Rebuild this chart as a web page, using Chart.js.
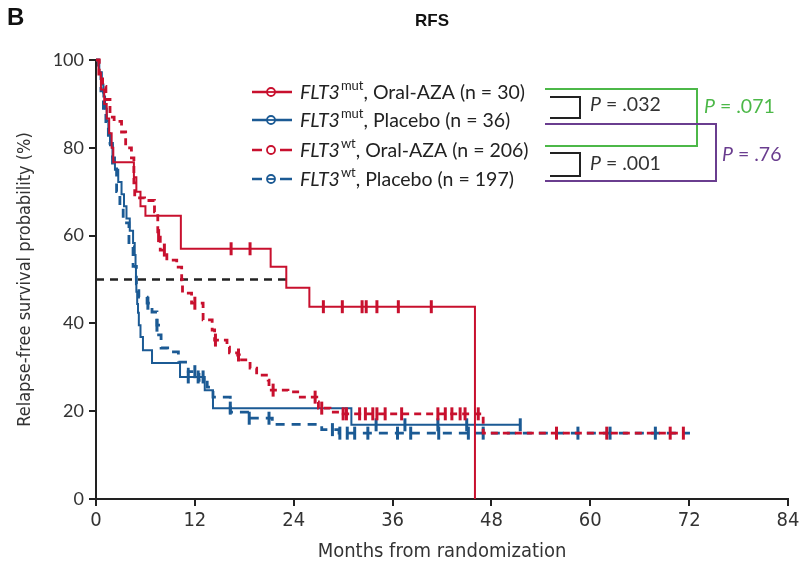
<!DOCTYPE html>
<html>
<head>
<meta charset="utf-8">
<script src="https://cdn.jsdelivr.net/npm/chart.js@4.4.1/dist/chart.umd.min.js"></script>
<style>
  html, body { margin: 0; padding: 0; background: #fff; }
  #wrap { width: 807px; height: 569px; position: relative; }
</style>
</head>
<body>
<div id="wrap"><canvas id="km" width="807" height="569"></canvas></div>
<script>
// Kaplan-Meier curves (months, % relapse-free)
var mutAzaT = [0, 0.3, 0.6, 1.0, 1.3, 1.6, 1.9, 2.1, 4.6, 4.9, 5.4, 6.0, 10.3, 21.2, 23.1, 25.9, 46.0];
var mutAzaS = [100, 96.7, 93.3, 90, 86.7, 83.3, 80, 76.7, 73.3, 70, 66.7, 64.5, 57.0, 52.9, 48.1, 43.8, 0];
var mutAzaCens = [16.4, 18.7, 27.6, 29.9, 32.3, 32.8, 34.1, 36.7, 40.7];

var mutPboT = [0, 0.4, 0.7, 0.9, 1.1, 1.3, 1.5, 1.7, 2.0, 2.3, 2.7, 3.1, 3.4, 3.7, 4.1, 4.5, 4.7, 4.8, 4.85, 4.9, 5.0, 5.1, 5.2, 5.4, 5.7, 6.8, 10.2, 13.2, 14.2, 31.0, 51.5];
var mutPboS = [100, 97.2, 94.4, 91.7, 88.9, 86.1, 83.3, 80.6, 77.8, 75.0, 72.2, 69.4, 66.7, 63.9, 61.1, 58.3, 55.6, 52.8, 50.0, 47.2, 44.4, 42.4, 39.6, 36.9, 33.9, 31.0, 27.8, 24.8, 20.7, 16.9, 16.9];
var mutPboCens = [11.2, 12.4, 13.0, 16.3, 34.0, 37.5, 41.5, 45.0, 51.5];

var wtAzaT = [0, 0.4, 0.8, 1.2, 1.7, 2.2, 3.1, 3.6, 4.3, 4.6, 4.7, 5.9, 7.1, 7.5, 7.8, 8.6, 9.8, 10.4, 10.5, 11.6, 13.0, 14.1, 14.4, 15.9, 16.2, 17.2, 17.4, 18.7, 19.5, 20.9, 21.0, 23.3, 24.8, 26.8, 27.0, 28.4, 30.0, 47.0, 71.3];
var wtAzaS = [100, 97, 94, 91, 87, 86, 83.6, 80, 77.7, 72, 68.6, 68, 65.4, 60, 56.7, 54.4, 52.8, 49.9, 46.9, 44.6, 40.8, 38.5, 36.2, 34.6, 33.3, 32.8, 31.7, 29.8, 28.2, 27.1, 24.8, 24.4, 23.2, 22.1, 20.7, 19.8, 19.4, 15.0, 15.0];
var wtAzaCens = [7.6, 8.3, 12.0, 14.5, 17.3, 21.5, 26.6, 27.4, 30.0, 30.4, 32.0, 32.7, 33.6, 34.1, 35.1, 37.1, 41.5, 42.4, 43.2, 44.2, 44.8, 46.4, 55.9, 62.0, 69.7, 71.3];

var wtPboT = [0, 0.3, 0.6, 0.9, 1.2, 1.5, 2.0, 2.5, 2.9, 3.3, 4.0, 4.5, 4.9, 5.2, 6.2, 6.8, 7.4, 7.6, 7.9, 8.7, 10.0, 11.2, 12.5, 13.5, 14.2, 16.3, 18.6, 21.4, 27.4, 29.5, 72.1];
var wtPboS = [100, 97, 93, 89, 85, 81, 76, 70, 66.5, 62.9, 57.4, 53, 49, 46, 44.6, 42.6, 39.6, 37.4, 34.4, 33.5, 31.2, 29, 27, 25.5, 23.2, 19.8, 18.4, 17.0, 15.8, 15.0, 15.0];
var wtPboCens = [6.3, 7.4, 12.0, 18.6, 21.0, 28.7, 29.6, 30.5, 31.4, 33.0, 36.6, 38.2, 41.6, 45.2, 47.0, 58.5, 62.4, 67.9];

var medianX = [0, 23.2];
var medianY = [50, 50];

var xTicks = [0, 12, 24, 36, 48, 60, 72, 84];
var yTicks = [0, 20, 40, 60, 80, 100];

var RED = '#c8102e';
var BLUE = '#1b5a94';
var GREEN = '#4cb848';
var PURPLE = '#6a3d8f';

function pts(t, s) {
    var out = [];
    for (var i = 0; i < t.length; i++) out.push({x: t[i], y: s[i]});
    return out;
}
// value of the step function at time tt
function survAt(t, s, tt) {
    var v = s[0];
    for (var i = 0; i < t.length; i++) { if (t[i] <= tt) v = s[i]; }
    return v;
}
function censPts(t, s, c) {
    return c.map(function(tt) { return {x: tt, y: survAt(t, s, tt)}; });
}

function curve(label, t, s, color, dash) {
    return {
        label: label, data: pts(t, s), borderColor: color, borderWidth: dash ? 2.8 : 2,
        borderDash: dash || [], stepped: true, pointRadius: 0, fill: false, clip: 4
    };
}
function marks(t, s, c, color) {
    return {
        data: censPts(t, s, c), showLine: false, pointStyle: 'line', rotation: 90,
        pointRadius: 6.5, borderWidth: 3, borderColor: color, backgroundColor: color, clip: 8
    };
}

var axisFont = "'Liberation Sans Narrow', 'DejaVu Sans Condensed', sans-serif";
var textFont = "Lato, 'Liberation Sans', sans-serif";

var overlay = {
    id: 'overlay',
    afterDraw: function(chart) {
        var ctx = chart.ctx;
        ctx.save();
        // panel letter and title
        ctx.fillStyle = '#111';
        ctx.font = "bold 24px 'Liberation Sans', sans-serif";
        ctx.textBaseline = 'middle';
        ctx.textAlign = 'left';
        ctx.fillText('B', 7, 18);
        ctx.font = "bold 17px 'Liberation Sans', sans-serif";
        ctx.textAlign = 'center';
        ctx.fillText('RFS', 432, 21);

        // legend
        var rows = [
            {y: 92, color: RED, dash: false, sup: 'mut', rest: ', Oral-AZA (n = 30)', bar: true},
            {y: 120, color: BLUE, dash: false, sup: 'mut', rest: ', Placebo (n = 36)', bar: true},
            {y: 150, color: RED, dash: [9, 6], sup: 'wt', rest: ', Oral-AZA (n = 206)', bar: false},
            {y: 179, color: BLUE, dash: [6, 9], sup: 'wt', rest: ', Placebo (n = 197)', bar: true}
        ];
        rows.forEach(function(r) {
            ctx.strokeStyle = r.color;
            ctx.lineWidth = 2.4;
            ctx.beginPath();
            if (r.dash) {
                ctx.moveTo(252, r.y); ctx.lineTo(262, r.y);
                ctx.moveTo(280, r.y); ctx.lineTo(292, r.y);
            } else {
                ctx.moveTo(252, r.y); ctx.lineTo(292, r.y);
            }
            ctx.stroke();
            ctx.beginPath();
            ctx.arc(271, r.y, 4, 0, Math.PI * 2);
            ctx.fillStyle = '#fff';
            ctx.fill();
            ctx.lineWidth = 1.8;
            ctx.stroke();
            if (r.bar) {
                ctx.beginPath(); ctx.moveTo(267, r.y); ctx.lineTo(275, r.y); ctx.stroke();
            }
            ctx.fillStyle = '#222';
            ctx.textAlign = 'left';
            ctx.textBaseline = 'alphabetic';
            var x = 300, base = r.y + 7;
            ctx.font = "italic 19.5px " + textFont;
            ctx.fillText('FLT3', x, base);
            x += ctx.measureText('FLT3').width + 1;
            ctx.font = "13px " + textFont;
            ctx.fillText(r.sup, x, base - 9);
            x += ctx.measureText(r.sup).width;
            ctx.font = "19.5px " + textFont;
            ctx.fillText(r.rest, x, base);
        });

        // p-value brackets
        function bracket(x0, x1, y0, y1, color, w) {
            ctx.strokeStyle = color;
            ctx.lineWidth = w;
            ctx.beginPath();
            ctx.moveTo(x0, y0); ctx.lineTo(x1, y0); ctx.lineTo(x1, y1); ctx.lineTo(x0, y1);
            ctx.stroke();
        }
        function pval(txt, x, y, color) {
            ctx.fillStyle = color;
            ctx.textBaseline = 'middle';
            ctx.textAlign = 'left';
            ctx.font = "italic 19.5px " + textFont;
            ctx.fillText('P', x, y);
            var w = ctx.measureText('P').width;
            ctx.font = "19.5px " + textFont;
            ctx.fillText(' = ' + txt, x + w, y);
        }
        bracket(545, 697, 89, 146, GREEN, 2);
        bracket(545, 716, 124, 181, PURPLE, 2);
        bracket(550, 580, 97, 118, '#222', 2);
        bracket(550, 580, 153, 176, '#222', 2);
        pval('.032', 590, 105, '#333');
        pval('.001', 590, 164, '#333');
        pval('.071', 704, 107, GREEN);
        pval('.76', 722, 155, PURPLE);
        ctx.restore();
    }
};

new Chart(document.getElementById('km'), {
    type: 'line',
    data: {
        datasets: [
            curve('mutAza', mutAzaT, mutAzaS, RED, null),
            marks(mutAzaT, mutAzaS, mutAzaCens, RED),
            curve('wtAza', wtAzaT, wtAzaS, RED, [7, 5]),
            marks(wtAzaT, wtAzaS, wtAzaCens, RED),
            curve('mutPbo', mutPboT, mutPboS, BLUE, null),
            marks(mutPboT, mutPboS, mutPboCens, BLUE),
            curve('wtPbo', wtPboT, wtPboS, BLUE, [9, 7]),
            marks(wtPboT, wtPboS, wtPboCens, BLUE),
            {
                data: pts(medianX, medianY), borderColor: '#222', borderWidth: 2.4,
                borderDash: [8, 6], pointRadius: 0
            }
        ]
    },
    options: {
        responsive: false,
        animation: false,
        layout: { padding: { top: 60, right: 19, left: 0, bottom: 0 } },
        plugins: { legend: { display: false }, tooltip: { enabled: false } },
        scales: {
            x: {
                type: 'linear', min: 0, max: 84,
                afterBuildTicks: function(s) { s.ticks = xTicks.map(function(v) { return {value: v}; }); },
                afterFit: function(s) { s.height = 70; },
                grid: { drawOnChartArea: false, drawTicks: true, tickLength: 7, color: '#222', lineWidth: 2 },
                border: { display: true, color: '#222', width: 2 },
                ticks: { color: '#333', font: { family: axisFont, size: 20 }, padding: 3, maxRotation: 0 },
                title: { display: true, text: 'Months from randomization', color: '#333',
                         font: { family: axisFont, size: 20 }, padding: { top: 0, bottom: 5 } }
            },
            y: {
                min: 0, max: 100,
                afterBuildTicks: function(s) { s.ticks = yTicks.map(function(v) { return {value: v}; }); },
                afterFit: function(s) { s.width = 96; },
                grid: { drawOnChartArea: false, drawTicks: true, tickLength: 7, color: '#222', lineWidth: 2 },
                border: { display: true, color: '#222', width: 2 },
                ticks: { color: '#333', font: { family: textFont, size: 18 }, padding: 5 },
                title: { display: true, text: 'Relapse-free survival probability (%)', color: '#333',
                         font: { family: axisFont, size: 18 }, padding: { top: 15, bottom: 0 } }
            }
        }
    },
    plugins: [overlay]
});
</script>
</body>
</html>
